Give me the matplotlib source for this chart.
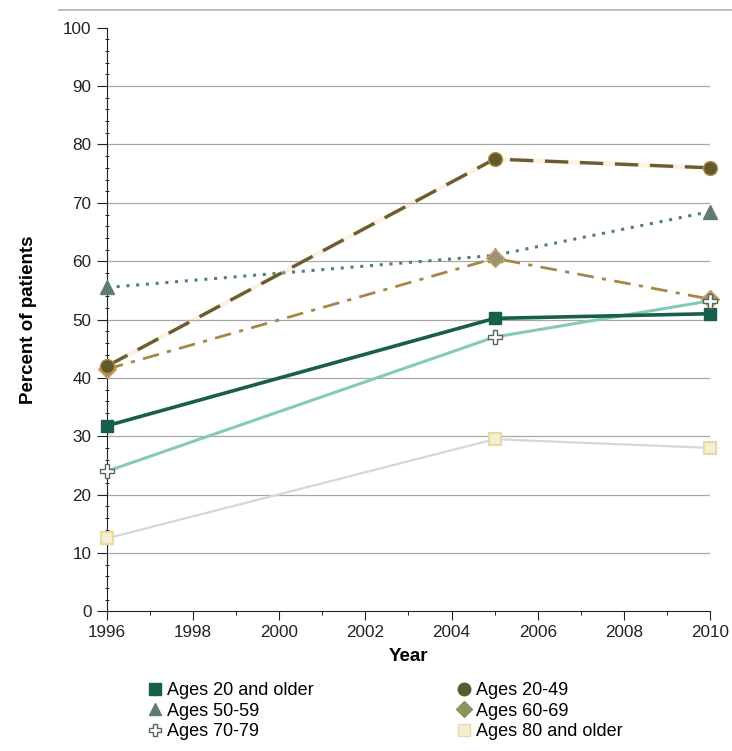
import numpy as np
import matplotlib
matplotlib.use("Agg")
import matplotlib.pyplot as plt
from matplotlib.ticker import MultipleLocator
from matplotlib.lines import Line2D

plt.rcParams['font.family'] = ['Liberation Sans', 'DejaVu Sans']

years = [1996, 2005, 2010]
labels = ['Ages 20 and older', 'Ages 20-49', 'Ages 50-59',
          'Ages 60-69', 'Ages 70-79', 'Ages 80 and older']
all_ages = [31.8, 50.2, 51.0]
ages_20_49 = [42.0, 77.5, 76.0]
ages_50_59 = [55.5, 61.0, 68.5]
ages_60_69 = [41.5, 60.5, 53.5]
ages_70_79 = [24.0, 47.0, 53.2]
ages_80_up = [12.5, 29.5, 28.0]

fig = plt.figure(figsize=(7.32, 7.51), dpi=100)
ax = fig.add_axes([0.146, 0.186, 0.824, 0.777])

# grid lines first
for v in range(10, 100, 10):
    ax.axhline(v, color='#a8a8a8', lw=0.9, zorder=0)

mk = dict(ls='none', clip_on=False)

ax.plot(years, ages_80_up, color='#d6d6d6', lw=1.6, zorder=2)
ax.plot(years, ages_80_up, marker='s', ms=8, mfc='#f3efd0',
        mec='#e6dca0', mew=1.5, zorder=3, **mk)

ax.plot(years, ages_70_79, color='#86c9b8', lw=2.2, zorder=2)
ax.plot(years, ages_70_79, marker='P', ms=10, mfc='white',
        mec='#56665f', mew=1.0, zorder=6, **mk)

ax.plot(years, ages_50_59, color='#4e7f78', lw=2.2, ls=(0, (1, 2.2)), zorder=2)
ax.plot(years, ages_50_59, marker='^', ms=10, mfc='#5f7b74',
        mec='#5f7b74', zorder=3, **mk)

ax.plot(years, ages_60_69, color='#a88648', lw=2.0, ls=(0, (6, 3, 1.5, 3)), zorder=2)
ax.plot(years, ages_60_69, marker='D', ms=9, mfc='#9a9470',
        mec='#cfa060', mew=1.0, zorder=4, **mk)

ax.plot(years, ages_20_49, color='#e8c070', lw=3.4, alpha=0.2, zorder=2)
ax.plot(years, ages_20_49, color='#6b5b30', lw=2.4, ls=(0, (7, 3.5)), zorder=2)
ax.plot(years, ages_20_49, marker='o', ms=10, mfc='#5c5a2e',
        mec='#c08a3a', mew=1.0, zorder=4, **mk)

ax.plot(years, all_ages, color='#175e4c', lw=2.6, zorder=4)
ax.plot(years, all_ages, marker='s', ms=9, mfc='#175e4c',
        mec='#175e4c', zorder=5, **mk)

ax.set_xlim(1996, 2010)
ax.set_ylim(0, 100)
ax.xaxis.set_major_locator(MultipleLocator(2))
ax.xaxis.set_minor_locator(MultipleLocator(1))
ax.yaxis.set_major_locator(MultipleLocator(10))
ax.yaxis.set_minor_locator(MultipleLocator(2))
ax.tick_params(axis='both', labelsize=12.3, colors='#222222')
ax.tick_params(axis='y', which='major', length=7, direction='out', pad=4)
ax.tick_params(axis='y', which='minor', length=2.5, direction='inout')
ax.tick_params(axis='x', which='major', length=6.5, direction='out', pad=3)
ax.tick_params(axis='x', which='minor', length=3, direction='out')

for s in ['top', 'right']:
    ax.spines[s].set_visible(False)
ax.spines['left'].set_color('#222222')
ax.spines['bottom'].set_color('#222222')

ax.set_xlabel('Year', fontsize=13.5, fontweight='bold', labelpad=6)
ax.set_ylabel('Percent of patients', fontsize=13.5, fontweight='bold', labelpad=19)

# top rule
fig.add_artist(Line2D([0.08, 1.0], [0.987, 0.987], color='#b0b0b0', lw=1.2))

handles = [
    Line2D([], [], ls='none', marker='s', ms=9, mfc='#175e4c', mec='#175e4c'),
    Line2D([], [], ls='none', marker='^', ms=9, mfc='#5f7b74', mec='#5f7b74'),
    Line2D([], [], ls='none', marker='P', ms=9, mfc='white', mec='#56665f'),
    Line2D([], [], ls='none', marker='o', ms=9, mfc='#5c5a2e', mec='#5c5a2e'),
    Line2D([], [], ls='none', marker='D', ms=8, mfc='#8f9260', mec='#8f9260'),
    Line2D([], [], ls='none', marker='s', ms=8, mfc='#f3efd0', mec='#e6dca0'),
]
order = [0, 2, 4, 1, 3, 5]
fig.legend(handles, [labels[i] for i in order], loc='upper left',
           bbox_to_anchor=(0.199, 0.092), ncol=2, frameon=False, fontsize=13,
           handletextpad=0.2, labelspacing=0.2, columnspacing=7.8,
           handlelength=1.0, borderaxespad=0, borderpad=0)

fig.savefig('out.png', dpi=100, facecolor='white')
